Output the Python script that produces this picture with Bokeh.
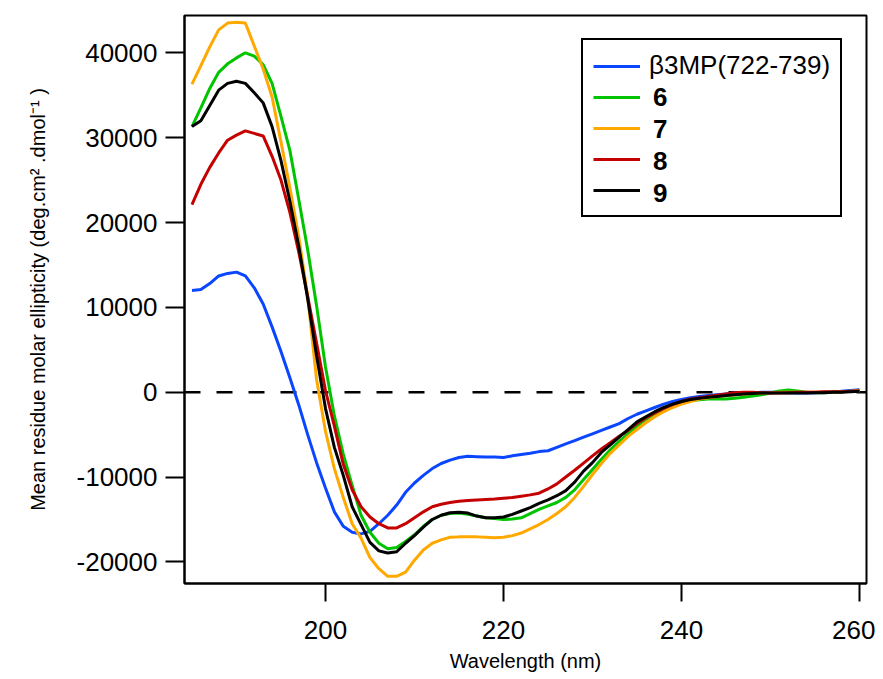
from bokeh.plotting import figure
from bokeh.models import Range1d, FixedTicker, NumeralTickFormatter, Span, Legend, LegendItem
from bokeh.embed import file_html
from bokeh.resources import INLINE

# ---- data ----
wavelength = list(range(185, 261))

b3mp = [12000, 12100, 12800, 13700, 14000, 14150, 13700, 12300, 10400, 7700,
        4800, 1700, -1500, -5000, -8300, -11300, -14100, -15800, -16500, -16700,
        -16400, -15500, -14500, -13300, -11800, -10700, -9800, -9000, -8400, -8000,
        -7700, -7550, -7600, -7650, -7650, -7700, -7500, -7350, -7200, -7000,
        -6900, -6500, -6100, -5700, -5300, -4900, -4500, -4100, -3700, -3100,
        -2600, -2200, -1800, -1400, -1100, -850, -650, -500, -400, -300,
        -200, -100, -100, -50, 0, 0, 0, -50, -100, -100,
        -50, 0, 0, 100, 200, 300]

s6 = [31300, 33500, 35800, 37700, 38700, 39400, 40000, 39600, 38600, 36400,
      32500, 28500, 22700, 16800, 10200, 3000, -2800, -7300, -11000, -14500,
      -16500, -17800, -18450, -18300, -17600, -16800, -15800, -15000, -14500, -14300,
      -14250, -14400, -14600, -14800, -14900, -15000, -14950, -14800, -14300, -13800,
      -13400, -13000, -12400, -11500, -10300, -9100, -7900, -6800, -5800, -4900,
      -4000, -3200, -2600, -2100, -1600, -1200, -1000, -900, -800, -800,
      -800, -700, -600, -450, -300, -100, 150, 250, 150, 0,
      -50, -50, 0, 50, 100, 100]

s7 = [36300, 38500, 40700, 42700, 43500, 43600, 43500, 40800, 38100, 34800,
      29500, 24100, 18300, 11300, 1500, -4600, -9000, -12400, -15500, -17200,
      -19500, -20800, -21700, -21700, -21200, -19800, -18600, -17800, -17400, -17100,
      -17050, -17050, -17050, -17100, -17150, -17100, -16900, -16600, -16100, -15600,
      -15000, -14300, -13500, -12400, -11100, -9700, -8400, -7200, -6200, -5200,
      -4400, -3600, -2900, -2300, -1800, -1400, -1100, -800, -650, -500,
      -400, -300, -200, -150, -100, -50, 0, 0, 0, 0,
      0, 0, 0, 50, 100, 200]

s8 = [22100, 24500, 26500, 28200, 29700, 30300, 30800, 30500, 30200, 27800,
      25000, 21200, 16500, 11300, 5800, 200, -4000, -8500, -11500, -13500,
      -14700, -15500, -16000, -16000, -15500, -14800, -14100, -13500, -13200, -13000,
      -12850, -12750, -12700, -12650, -12600, -12500, -12400, -12250, -12100, -11900,
      -11400, -10800, -10000, -9200, -8350, -7500, -6700, -5950, -5200, -4500,
      -3700, -3000, -2450, -1900, -1450, -1100, -800, -650, -500, -350,
      -200, -50, 0, 0, -50, -100, -100, -50, 0, 0,
      0, 50, 50, 50, 100, 150]

s9 = [31300, 32000, 33800, 35600, 36400, 36650, 36400, 35300, 34100, 31300,
      27300, 22500, 17200, 11000, 4300, -1900, -6500, -9800, -13500, -15600,
      -17700, -18700, -18950, -18800, -17800, -16900, -15900, -15000, -14500, -14200,
      -14150, -14250, -14600, -14800, -14800, -14700, -14400, -14000, -13600, -13100,
      -12700, -12200, -11600, -10600, -9300, -8300, -7100, -6200, -5300, -4400,
      -3500, -2900, -2300, -1800, -1400, -1100, -850, -700, -600, -500,
      -400, -300, -200, -150, -100, -100, -100, -100, -100, -100,
      -50, -50, 0, 0, 50, 100]

series = [b3mp, s6, s7, s8, s9]
series_labels = ["\u03b23MP(722-739)", "6", "7", "8", "9"]
series_colors = ["#0a46ff", "#00c400", "#ffa800", "#c40000", "#000000"]

x_ticks = [200, 220, 240, 260]
y_ticks = [-20000, -10000, 0, 10000, 20000, 30000, 40000]

FONT = "Liberation Sans"

p = figure(width=875, height=676, output_backend="svg", toolbar_location=None,
           x_range=Range1d(184.16, 260.79), y_range=Range1d(-22545, 44396),
           min_border_left=184, min_border_right=9, min_border_top=15,
           min_border_bottom=93)
p.grid.visible = False
p.background_fill_color = "white"
p.border_fill_color = "white"
p.outline_line_color = "black"
p.outline_line_width = 2
p.outline_line_alpha = 1.0

zero = Span(location=0, dimension="width", line_color="black",
            line_dash="16 16", line_width=2.5, level="underlay")
p.add_layout(zero)

renderers = []
for ys, col in zip(series, series_colors):
    r = p.line(wavelength, ys, line_color=col, line_width=3)
    renderers.append(r)

# axes
p.xaxis.ticker = FixedTicker(ticks=x_ticks)
p.yaxis.ticker = FixedTicker(ticks=y_ticks)
p.yaxis.formatter = NumeralTickFormatter(format="0")
p.xaxis.formatter = NumeralTickFormatter(format="0")
for ax in (p.xaxis, p.yaxis):
    ax.major_tick_in = 0
    ax.major_tick_line_width = 2
    ax.major_tick_line_color = "black"
    ax.minor_tick_line_color = None
    ax.axis_line_width = 2
    ax.axis_line_color = "black"
    ax.major_label_text_font = FONT
    ax.major_label_text_font_size = "26px"
    ax.major_label_text_color = "black"
    ax.axis_label_text_font = FONT
    ax.axis_label_text_font_size = "20px"
    ax.axis_label_text_font_style = "normal"
    ax.axis_label_text_color = "black"
p.xaxis.major_tick_out = 18
p.yaxis.major_tick_out = 19
p.xaxis.major_label_standoff = 19
p.yaxis.major_label_standoff = 8
p.xaxis.axis_label_standoff = 8
p.yaxis.axis_label_standoff = 25
p.xaxis.axis_label = "Wavelength (nm)"
p.yaxis.axis_label = "Mean residue molar ellipticity (deg.cm\u00b2 .dmol\u207b\u00b9 )"

# legend: box with all lines, first label normal; numbers bold overlay
legA_items = [LegendItem(label=series_labels[0], renderers=[renderers[0]])]
for r in renderers[1:]:
    legA_items.append(LegendItem(label=" ", renderers=[r]))
common = dict(padding=10, spacing=1, glyph_width=47,
              glyph_height=30, label_standoff=9, label_height=30,
              label_text_font=FONT, label_text_font_size="26px",
              label_text_color="black")
legA = Legend(items=legA_items, location=(397, 366),
              border_line_color="black", border_line_width=2,
              border_line_alpha=1.0, background_fill_color="white",
              background_fill_alpha=1.0, label_text_font_style="normal", **common)
p.add_layout(legA)

dummies = []
for col in series_colors[1:]:
    d = p.line([], [], line_color=col, line_alpha=0)
    dummies.append(d)
legB_items = [LegendItem(label=lab, renderers=[d]) for lab, d in zip(series_labels[1:], dummies)]
legB = Legend(items=legB_items, location=(413, 374), border_line_color=None,
              background_fill_alpha=0, label_text_font_style="bold", **common)
p.add_layout(legB)

open("out.html", "w").write(file_html(p, INLINE))
